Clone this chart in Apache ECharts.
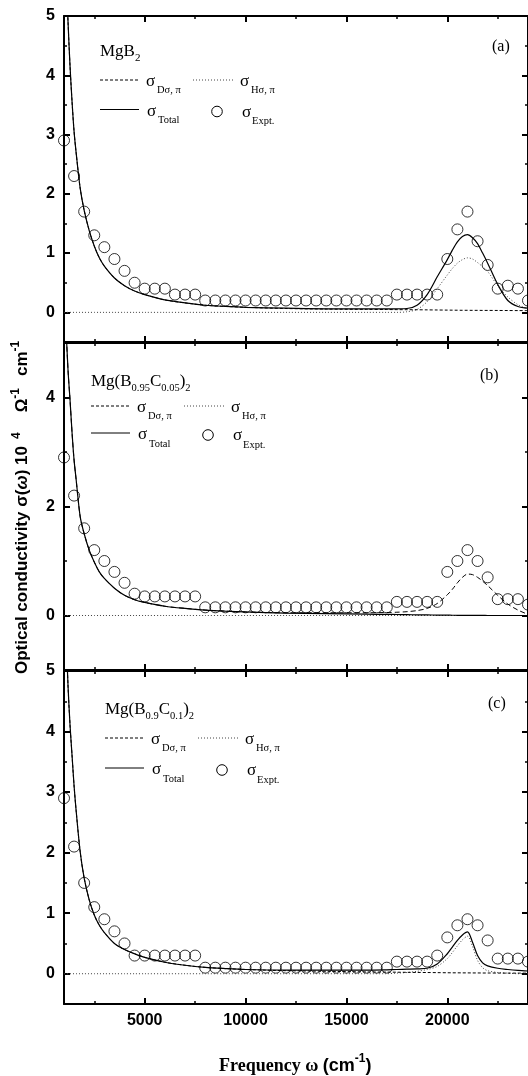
<!DOCTYPE html>
<html><head><meta charset="utf-8">
<script src="https://cdn.jsdelivr.net/npm/echarts@6/dist/echarts.min.js"></script>
<style>html,body{margin:0;padding:0;background:#fff}#c{width:528px;height:1076px}</style>
</head><body><div id="c"></div>
<script>
// ---------- data ----------
const curveFreq = [1000,1100,1200,1300,1400,1500,1600,1800,2000,2250,2500,2750,3000,3500,4000,4500,5000,6000,7000,8000,9000,10000,12000,14000,16000,17000,17500,18000,18500,19000,19500,20000,20250,20500,20750,21000,21250,21500,21750,22000,22500,23000,23500,24000];

// panel (a) MgB2
const drudeA = [7.0,5.8,4.9,4.15,3.55,3.05,2.7,2.1,1.72,1.38,1.12,0.92,0.78,0.58,0.45,0.36,0.30,0.21,0.16,0.12,0.10,0.085,0.065,0.055,0.05,0.048,0.046,0.045,0.044,0.042,0.04,0.038,0.037,0.036,0.035,0.035,0.034,0.034,0.033,0.033,0.032,0.031,0.03,0.03];
const interA = [0,0,0,0,0,0,0,0,0,0,0,0,0,0,0,0,0,0,0,0,0,0,0,0,0,0,0,0.01,0.05,0.18,0.4,0.63,0.74,0.83,0.89,0.92,0.9,0.84,0.77,0.69,0.45,0.26,0.13,0.06];
const totalA = [7.0,5.8,4.9,4.15,3.55,3.05,2.7,2.1,1.72,1.38,1.12,0.92,0.78,0.58,0.45,0.36,0.30,0.21,0.16,0.12,0.10,0.085,0.07,0.06,0.058,0.058,0.06,0.065,0.12,0.3,0.6,0.89,1.05,1.19,1.28,1.31,1.26,1.16,1.0,0.83,0.47,0.2,0.1,0.07];

// panel (b) Mg(B0.95C0.05)2
const drudeB = [6.4,5.3,4.5,3.95,3.35,2.85,2.5,1.82,1.5,1.2,0.98,0.8,0.68,0.5,0.37,0.29,0.24,0.17,0.13,0.1,0.08,0.065,0.05,0.05,0.05,0.055,0.06,0.07,0.09,0.13,0.22,0.38,0.48,0.6,0.7,0.76,0.75,0.7,0.63,0.55,0.37,0.21,0.1,0.02];
const interB = [0,0,0,0,0,0,0,0,0,0,0,0,0,0,0,0,0,0,0,0,0,0,0,0,0,0,0,0,0,0,0,0,0,0,0,0,0,0,0,0,0,0,0,0];
const totalB = [6.4,5.3,4.5,3.95,3.35,2.85,2.5,1.82,1.5,1.2,0.98,0.8,0.68,0.5,0.37,0.29,0.24,0.17,0.13,0.1,0.08,0.065,0.045,0.035,0.025,0.02,0.018,0.015,0.012,0.01,0.008,0.006,0.005,0.004,0.003,0.002,0.002,0.001,0.001,0,0,0,0,0];

// panel (c) Mg(B0.9C0.1)2
const drudeC = [7.0,5.7,4.75,4.1,3.6,3.1,2.7,2.02,1.58,1.22,0.97,0.8,0.68,0.5,0.4,0.33,0.27,0.19,0.14,0.105,0.085,0.07,0.05,0.04,0.03,0.027,0.025,0.023,0.021,0.02,0.018,0.016,0.015,0.015,0.014,0.014,0.013,0.013,0.012,0.012,0.011,0.01,0.01,0.01];
const interC = [0,0,0,0,0,0,0,0,0,0,0,0,0,0,0,0,0,0,0,0,0,0,0,0,0,0,0.01,0.02,0.04,0.07,0.12,0.25,0.35,0.46,0.56,0.62,0.45,0.22,0.1,0.05,0.02,0.01,0,0];
const totalC = [7.0,5.7,4.75,4.1,3.6,3.1,2.7,2.02,1.58,1.22,0.97,0.8,0.68,0.5,0.4,0.33,0.27,0.19,0.14,0.105,0.085,0.07,0.06,0.06,0.06,0.065,0.07,0.075,0.08,0.09,0.16,0.33,0.44,0.55,0.64,0.69,0.52,0.3,0.18,0.13,0.09,0.07,0.055,0.045];

// experimental points
const exptFreq = [1000,1500,2000,2500,3000,3500,4000,4500,5000,5500,6000,6500,7000,7500,8000,8500,9000,9500,10000,10500,11000,11500,12000,12500,13000,13500,14000,14500,15000,15500,16000,16500,17000,17500,18000,18500,19000,19500,20000,20500,21000,21500,22000,22500,23000,23500,24000];
const exptA = [2.9,2.3,1.7,1.3,1.1,0.9,0.7,0.5,0.4,0.4,0.4,0.3,0.3,0.3,0.2,0.2,0.2,0.2,0.2,0.2,0.2,0.2,0.2,0.2,0.2,0.2,0.2,0.2,0.2,0.2,0.2,0.2,0.2,0.3,0.3,0.3,0.3,0.3,0.9,1.4,1.7,1.2,0.8,0.4,0.45,0.4,0.2];
const exptB = [2.9,2.2,1.6,1.2,1.0,0.8,0.6,0.4,0.35,0.35,0.35,0.35,0.35,0.35,0.15,0.15,0.15,0.15,0.15,0.15,0.15,0.15,0.15,0.15,0.15,0.15,0.15,0.15,0.15,0.15,0.15,0.15,0.15,0.25,0.25,0.25,0.25,0.25,0.8,1.0,1.2,1.0,0.7,0.3,0.3,0.3,0.2];
const exptC = [2.9,2.1,1.5,1.1,0.9,0.7,0.5,0.3,0.3,0.3,0.3,0.3,0.3,0.3,0.1,0.1,0.1,0.1,0.1,0.1,0.1,0.1,0.1,0.1,0.1,0.1,0.1,0.1,0.1,0.1,0.1,0.1,0.1,0.2,0.2,0.2,0.2,0.3,0.6,0.8,0.9,0.8,0.55,0.25,0.25,0.25,0.2];

// ticks
const xTicks = [5000,10000,15000,20000];
const xMinorTicks = [2500,7500,12500,17500,22500];
const yTicksA = [0,1,2,3,4,5];
const yMinorA = [0.5,1.5,2.5,3.5,4.5];
const yTicksB = [0,2,4];
const yMinorB = [1,3];
const yTicksC = [0,1,2,3,4,5];
const yMinorC = [0.5,1.5,2.5,3.5,4.5];

// ---------- layout / style ----------
const SANS = '"Liberation Sans", Arial, sans-serif';
const SERIF = '"Liberation Serif", "Times New Roman", serif';
const panels = [
  {grid:{left:64, top:16, width:465, height:326}, y:[-0.5,5], maj:yTicksA, min:yMinorA, d:drudeA, h:interA, t:totalA, e:exptA, dash:[3,2]},
  {grid:{left:64, top:343, width:465, height:327}, y:[-1,5], maj:yTicksB, min:yMinorB, d:drudeB, h:interB, t:totalB, e:exptB, dash:[5,3]},
  {grid:{left:64, top:671, width:465, height:333}, y:[-0.5,5], maj:yTicksC, min:yMinorC, d:drudeC, h:interC, t:totalC, e:exptC, dash:[3,2]}
];

function xAx(p, pos, vals, len, line, labels){
  return {gridIndex:p, type:'value', min:1000, max:24000, position:pos,
    axisLine:{show:line, onZero:false, lineStyle:{color:'#000', width:2}},
    axisTick:{show:true, inside:true, length:len, customValues:vals, lineStyle:{color:'#000', width:len>4?2:1.5}},
    axisLabel:{show:labels, customValues:vals, margin:9, color:'#000', fontSize:16, fontWeight:'bold', fontFamily:SANS,
      formatter: v => String(v)},
    splitLine:{show:false}};
}
function yAx(p, pos, range, vals, len, line, labels){
  return {gridIndex:p, type:'value', min:range[0], max:range[1], position:pos,
    axisLine:{show:line, onZero:false, lineStyle:{color:'#000', width:2}},
    axisTick:{show:true, inside:true, length:len, customValues:vals, lineStyle:{color:'#000', width:len>4?2:1.5}},
    axisLabel:{show:labels, customValues:vals, margin:9, color:'#000', fontSize:16, fontWeight:'bold', fontFamily:SANS,
      formatter: v => String(v)},
    splitLine:{show:false}};
}

const grid=[], xAxis=[], yAxis=[], series=[];
panels.forEach((P,p)=>{
  grid.push(P.grid);
  xAxis.push(xAx(p,'bottom',xTicks,6,true,p===2));
  xAxis.push(xAx(p,'bottom',xMinorTicks,3,false,false));
  xAxis.push(xAx(p,'top',xTicks,6,true,false));
  xAxis.push(xAx(p,'top',xMinorTicks,3,false,false));
  yAxis.push(yAx(p,'left',P.y,P.maj,6,true,true));
  yAxis.push(yAx(p,'left',P.y,P.min,3,false,false));
  yAxis.push(yAx(p,'right',P.y,P.maj,6,true,false));
  yAxis.push(yAx(p,'right',P.y,P.min,3,false,false));
  const xi=p*4, yi=p*4;
  const pts = arr => curveFreq.map((f,i)=>[f,arr[i]]);
  series.push({type:'line', xAxisIndex:xi, yAxisIndex:yi, data:pts(P.h), showSymbol:false, smooth:0.3, silent:true,
    lineStyle:{color:'#444', width:1, type:[1,2]}});
  series.push({type:'line', xAxisIndex:xi, yAxisIndex:yi, data:pts(P.d), showSymbol:false, smooth:0.3, silent:true,
    lineStyle:{color:'#000', width:1, type:P.dash}});
  series.push({type:'line', xAxisIndex:xi, yAxisIndex:yi, data:pts(P.t), showSymbol:false, smooth:0.3, silent:true,
    lineStyle:{color:'#000', width:1.2, type:'solid'}});
  series.push({type:'scatter', xAxisIndex:xi, yAxisIndex:yi, data:exptFreq.map((f,i)=>[f,P.e[i]]), symbol:'circle', symbolSize:11, silent:true,
    itemStyle:{color:'rgba(255,255,255,0)', borderColor:'#000', borderWidth:1}});
});

// ---------- text helpers ----------
const mctx = document.createElement('canvas').getContext('2d');
function fontStr(size, fam, bold, italic){ return (italic?'italic ':'')+(bold?'bold ':'')+size+'px '+fam; }
function W(text, font){ mctx.font = font; return mctx.measureText(text).width; }
// parts: [text, size, family, dy, bold, italic, gapBefore]
function seqEls(x0, base, parts){
  const els=[]; let x=x0;
  parts.forEach(pt=>{
    const [text,size,fam,dy,bold,italic,gap] = pt;
    x += (gap||0);
    const f = fontStr(size,fam,bold,italic);
    els.push({type:'text', x:x, y:base+(dy||0)-0.33*size, silent:true,
      style:{text:text, font:f, fill:'#000', align:'left', verticalAlign:'middle'}});
    x += W(text,f);
  });
  return {els, width:x-x0};
}

const graphic=[];
function addSeq(x,b,parts){ seqEls(x,b,parts).els.forEach(e=>graphic.push(e)); }
function line(x1,y,x2,dash,color){ graphic.push({type:'line', silent:true, shape:{x1:x1,y1:y,x2:x2,y2:y}, style:{stroke:color||'#000', lineWidth:1, lineDash:dash}}); }

const legends = [
  {ox:100, tb:57, r1:80, r2:109.5, title:[['MgB',17,SERIF,0],['2',11,SERIF,5]], tag:'(a)', tx:492, ty:52},
  {ox:91, tb:387, r1:406, r2:433, title:[['Mg(B',17,SERIF,0],['0.95',10.5,SERIF,5],['C',17,SERIF,0],['0.05',10.5,SERIF,5],[')',17,SERIF,0],['2',10.5,SERIF,5]], tag:'(b)', tx:480, ty:381},
  {ox:105, tb:715, r1:738, r2:768, title:[['Mg(B',17,SERIF,0],['0.9',10.5,SERIF,5],['C',17,SERIF,0],['0.1',10.5,SERIF,5],[')',17,SERIF,0],['2',10.5,SERIF,5]], tag:'(c)', tx:488, ty:709}
];
legends.forEach(L=>{
  addSeq(L.ox, L.tb, L.title);
  line(L.ox, L.r1, L.ox+39, [3,2]);
  addSeq(L.ox+46, L.r1+7, [['σ',17,SERIF,0]]);
  addSeq(L.ox+57, L.r1+14, [['Dσ, π',10.5,SERIF,0]]);
  line(L.ox+93, L.r1, L.ox+133, [1,2], '#444');
  addSeq(L.ox+140, L.r1+7, [['σ',17,SERIF,0]]);
  addSeq(L.ox+151, L.r1+14, [['Hσ, π',10.5,SERIF,0]]);
  line(L.ox, L.r2, L.ox+39, null);
  addSeq(L.ox+47, L.r2+7.5, [['σ',17,SERIF,0]]);
  addSeq(L.ox+58, L.r2+14.5, [['Total',10.5,SERIF,0]]);
  graphic.push({type:'circle', silent:true, shape:{cx:L.ox+117, cy:L.r2+2, r:5.3}, style:{fill:'rgba(255,255,255,0)', stroke:'#000', lineWidth:1}});
  addSeq(L.ox+142, L.r2+8.5, [['σ',17,SERIF,0]]);
  addSeq(L.ox+152, L.r2+15.5, [['Expt.',10.5,SERIF,0]]);
  addSeq(L.tx, L.ty, [[L.tag,16,SERIF,0]]);
});

// x-axis title
addSeq(219, 1072, [['Frequency ω ',18,SERIF,0,true],['(cm',18,SANS,0,true],['-1',12,SANS,-9,true],[')',18,SANS,0,true]]);

// y-axis title (rotated)
const yParts = [['Optical conductivity σ(',17,SANS,0,true],['ω',17,SANS,0,true,true],[') 10',17,SANS,0,true],
  ['4',12,SANS,-7,true,false,7],['Ω',17,SANS,0,true,false,20],['-1',12,SANS,-8,true],['cm',17,SANS,0,true,false,12],['-1',12,SANS,-8,true]];
const yt = seqEls(0, 0, yParts);
graphic.push({type:'group', x:28, y:674, rotation:Math.PI/2, children:yt.els});

const chart = echarts.init(document.getElementById('c'), null, {renderer:'canvas'});
chart.setOption({animation:false, backgroundColor:'#fff', grid, xAxis, yAxis, series, graphic});
</script></body></html>
